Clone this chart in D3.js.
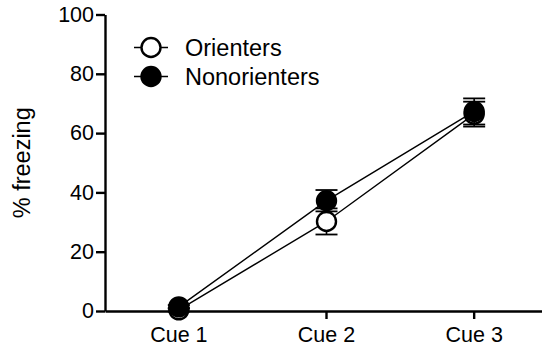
<!DOCTYPE html>
<html>
<head>
<meta charset="utf-8">
<script src="https://cdn.jsdelivr.net/npm/d3@7"></script>
<style>
  html, body { margin: 0; padding: 0; background: #fff; }
  svg { display: block; font-family: "Liberation Sans", Arial, Helvetica, sans-serif; }
</style>
</head>
<body>
<svg id="chart" width="542" height="350"></svg>
<script>
// Freezing to each cue, mean ± SEM per group
const cues = ["Cue 1", "Cue 2", "Cue 3"];
const orientersMean = [0.4, 30.2, 66.4];
const orientersSem = [0.6, 4.4, 4.2];
const nonorientersMean = [1.4, 37.2, 67.3];
const nonorientersSem = [0.6, 3.6, 4.4];
const yTicks = [0, 20, 40, 60, 80, 100];
const seriesNames = ["Orienters", "Nonorienters"];

const series = [
  { name: seriesNames[0], mean: orientersMean, sem: orientersSem, filled: false },
  { name: seriesNames[1], mean: nonorientersMean, sem: nonorientersSem, filled: true }
];

const svg = d3.select("#chart");
const plotLeft = 105, plotRight = 548, plotTop = 14.5, plotBottom = 311;

const x = d3.scaleBand().domain(cues).range([plotLeft, plotRight]).padding(0);
const cx = c => x(c) + x.bandwidth() / 2;
const y = d3.scaleLinear().domain([0, 100]).range([plotBottom, plotTop]);

// Y axis
const yAxis = svg.append("g")
  .attr("transform", `translate(${plotLeft},0)`)
  .call(d3.axisLeft(y).tickValues(yTicks).tickSize(9).tickPadding(2).tickSizeOuter(0));
yAxis.select(".domain").attr("stroke", "#000").attr("stroke-width", 2.4);
yAxis.selectAll(".tick line").attr("stroke", "#000").attr("stroke-width", 2.4);
yAxis.selectAll(".tick text").attr("font-size", 21.5).attr("fill", "#000")
  .attr("font-family", "Liberation Sans, Arial, sans-serif");

// X axis
const xAxis = svg.append("g")
  .attr("transform", `translate(0,${plotBottom})`)
  .call(d3.axisBottom(x).tickSize(8).tickPadding(8).tickSizeOuter(0));
xAxis.select(".domain").attr("stroke", "#000").attr("stroke-width", 2.4);
xAxis.selectAll(".tick line").attr("stroke", "#000").attr("stroke-width", 2.4);
xAxis.selectAll(".tick text").attr("font-size", 21.5).attr("fill", "#000")
  .attr("font-family", "Liberation Sans, Arial, sans-serif");

// Y axis title
svg.append("text")
  .attr("transform", `translate(29.5,${(plotTop + plotBottom) / 2}) rotate(-90)`)
  .attr("text-anchor", "middle")
  .attr("font-size", 23.5)
  .attr("fill", "#000")
  .text("% freezing");

const r = 9.5;
const line = d3.line().x(d => cx(d.c)).y(d => y(d.v));

// Connecting lines beneath the markers
series.forEach(s => {
  const pts = cues.map((c, i) => ({ c, v: s.mean[i] }));
  svg.append("path")
    .datum(pts)
    .attr("d", line)
    .attr("fill", "none")
    .attr("stroke", "#000")
    .attr("stroke-width", 1.4);
});

// Error bars and markers
series.forEach(s => {
  const g = svg.append("g");
  cues.forEach((c, i) => {
    const m = s.mean[i], e = s.sem[i];
    const xc = cx(c);
    g.append("line")
      .attr("x1", xc).attr("x2", xc)
      .attr("y1", y(m + e)).attr("y2", y(m - e))
      .attr("stroke", "#000").attr("stroke-width", 1.6);
    [m + e, m - e].forEach(v => {
      g.append("line")
        .attr("x1", xc - 11).attr("x2", xc + 11)
        .attr("y1", y(v)).attr("y2", y(v))
        .attr("stroke", "#000").attr("stroke-width", 1.8);
    });
  });
  g.selectAll("circle")
    .data(cues)
    .join("circle")
    .attr("cx", c => cx(c))
    .attr("cy", (c, i) => y(s.mean[i]))
    .attr("r", r)
    .attr("fill", s.filled ? "#000" : "#fff")
    .attr("stroke", "#000")
    .attr("stroke-width", 2.4);
});

// Legend
const legend = svg.append("g").attr("transform", "translate(151,47.5)");
series.forEach((s, i) => {
  const row = legend.append("g").attr("transform", `translate(0,${i * 29})`);
  row.append("line")
    .attr("x1", -17).attr("x2", 17)
    .attr("stroke", "#000").attr("stroke-width", 1.6);
  row.append("circle")
    .attr("r", r)
    .attr("fill", s.filled ? "#000" : "#fff")
    .attr("stroke", "#000").attr("stroke-width", 2.4);
  row.append("text")
    .attr("x", 34)
    .attr("y", 8.5)
    .attr("font-size", 23.5)
    .attr("fill", "#000")
    .text(s.name);
});
</script>
</body>
</html>
